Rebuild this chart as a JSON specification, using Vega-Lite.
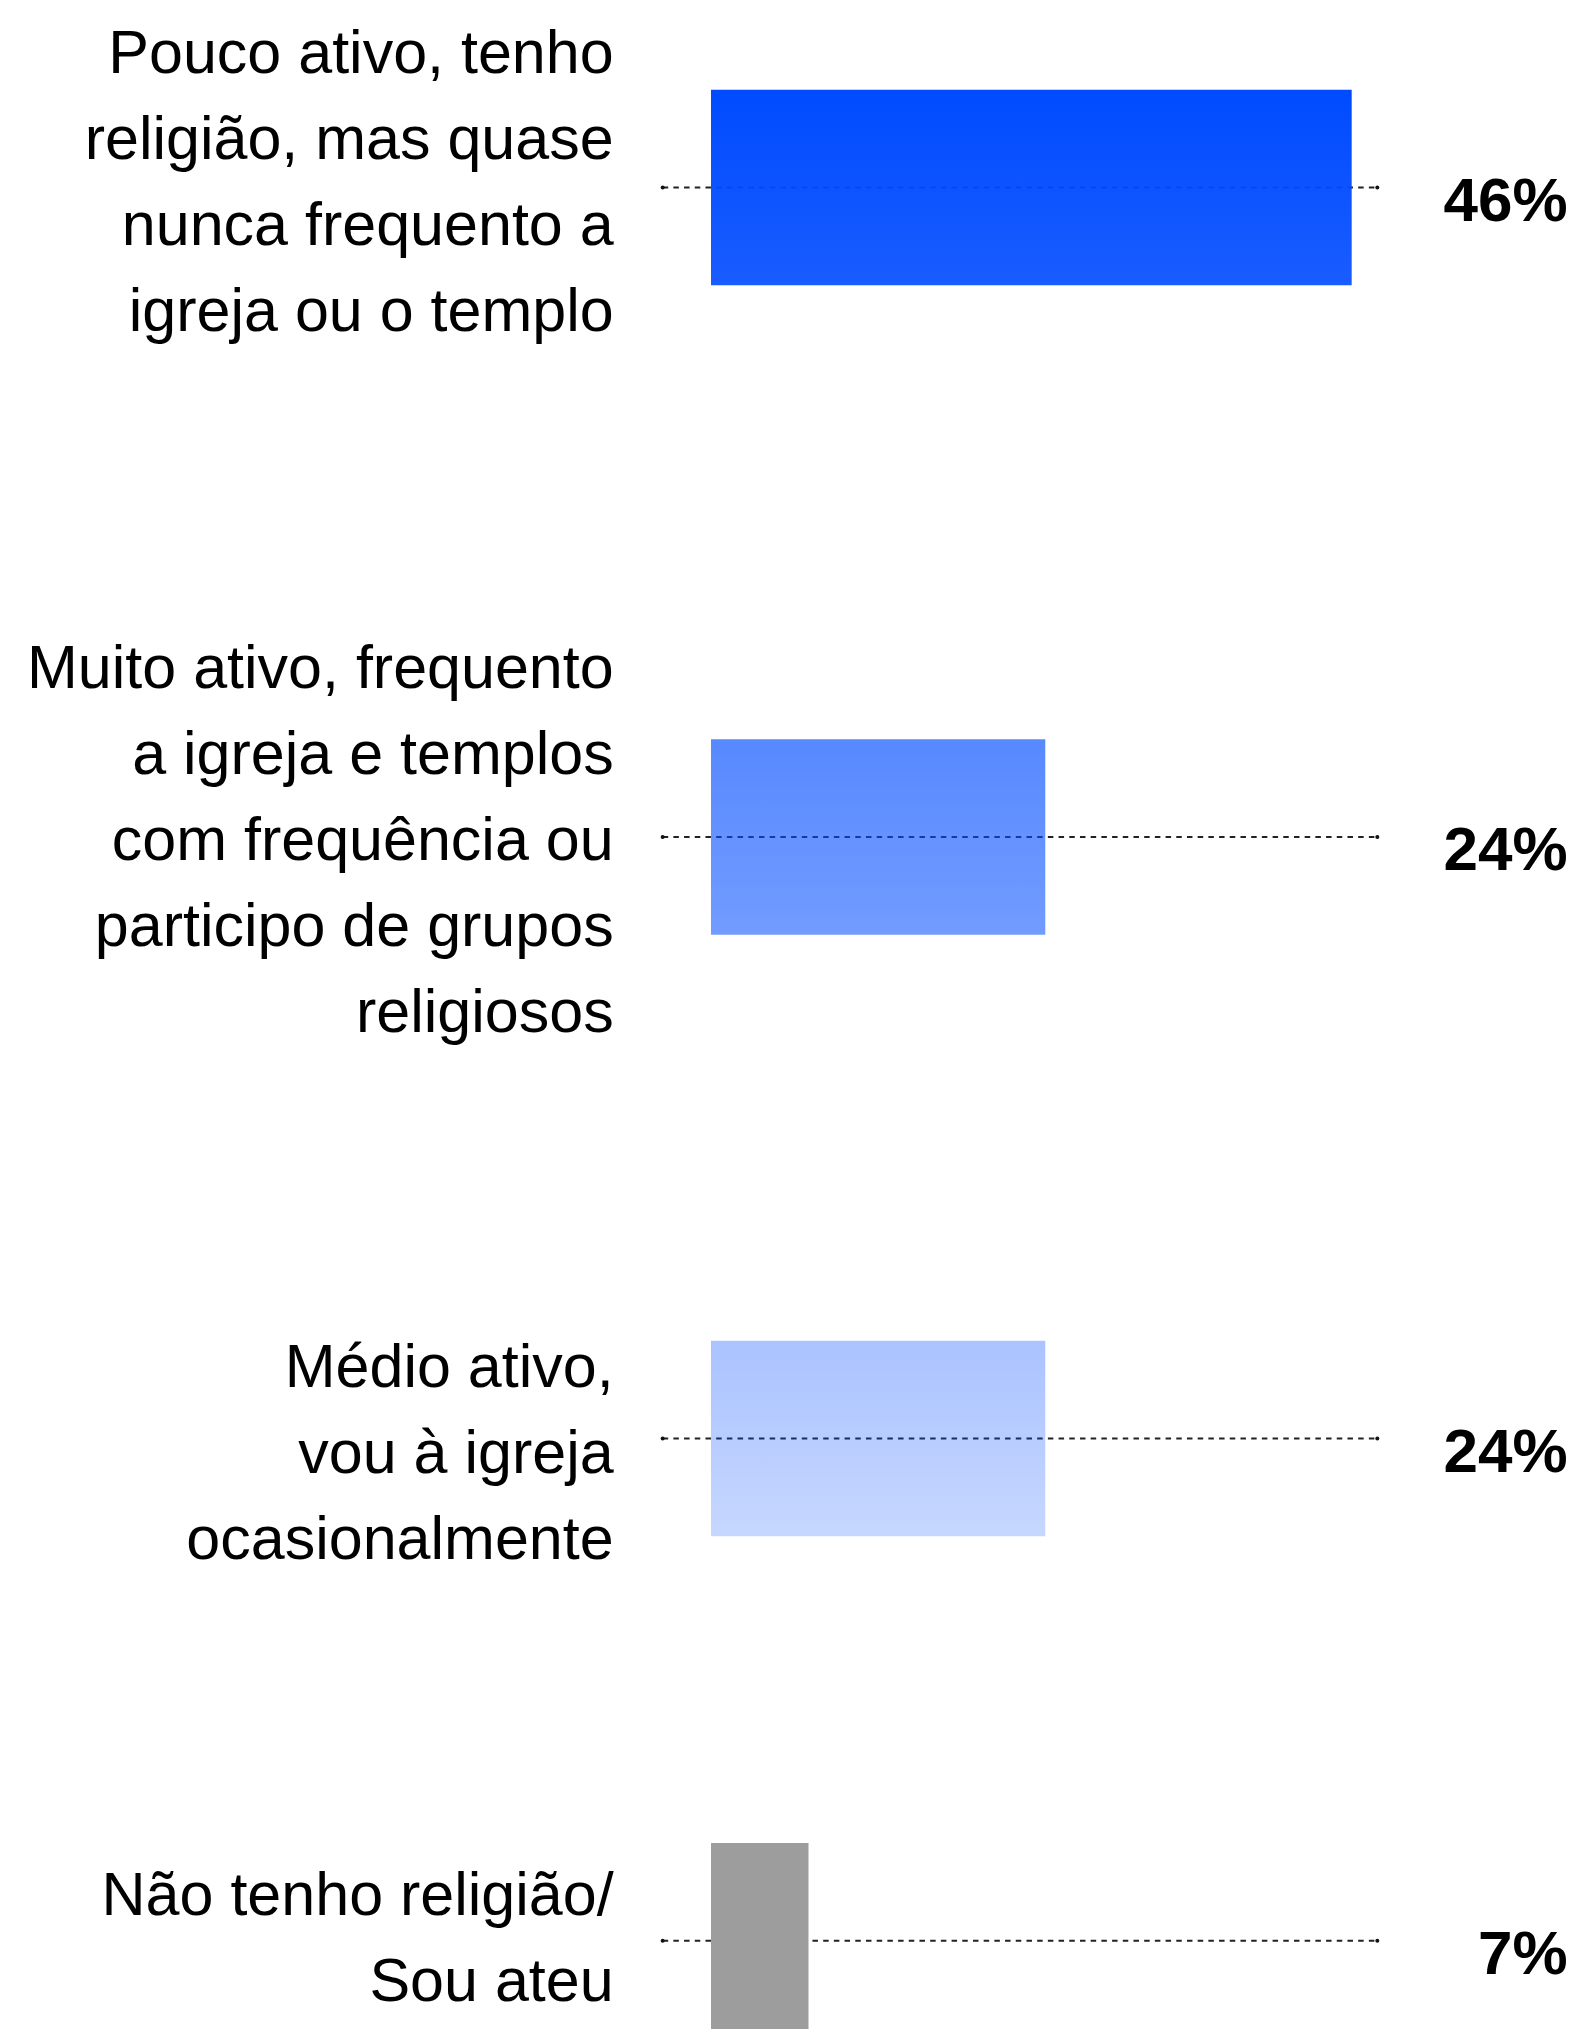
{
  "$schema": "https://vega.github.io/schema/vega-lite/v6.json",
  "padding": 0,
  "spacing": 0,
  "bounds": "flush",
  "config": {"view": {"stroke": null}},
  "data": {"values": [
    {"cat": "pouco", "label": "Pouco ativo, tenho\nreligião, mas quase\nnunca frequento a\nigreja ou o templo", "value": 0.46},
    {"cat": "muito", "label": "Muito ativo, frequento\na igreja e templos\ncom frequência ou\nparticipo de grupos\nreligiosos", "value": 0.24},
    {"cat": "medio", "label": "Médio ativo,\nvou à igreja\nocasionalmente", "value": 0.24},
    {"cat": "nao", "label": "Não tenho religião/\nSou ateu", "value": 0.07}
  ]},
  "vconcat": [
    {
      "width": 1574, "height": 375,
      "transform": [{"filter": "datum.cat == 'pouco'"}],
      "encoding": {"y": {"field": "cat", "type": "nominal", "axis": null}},
      "layer": [
        {"mark": {"type": "rule", "strokeDash": [5.5, 5.2], "strokeWidth": 2, "color": "#222"},
         "encoding": {"x": {"datum": -0.0347, "type": "quantitative", "scale": {"domain": [-0.51048, 0.61961], "nice": false, "zero": false}, "axis": null}, "x2": {"datum": 0.4784}}},
        {"mark": {"type": "point", "shape": "circle", "filled": true, "size": 16, "color": "#111", "opacity": 1},
         "encoding": {"x": {"datum": -0.0347, "type": "quantitative"}}},
        {"mark": {"type": "point", "shape": "circle", "filled": true, "size": 16, "color": "#111", "opacity": 1},
         "encoding": {"x": {"datum": 0.4784, "type": "quantitative"}}},
        {"mark": {"type": "bar", "height": 195.5, "fill": {"gradient": "linear", "x1": 0, "y1": 0, "x2": 0, "y2": 1, "stops": [{"offset": 0, "color": "rgba(0,75,255,1)"}, {"offset": 1, "color": "rgba(0,75,255,0.9)"}]}},
         "encoding": {"x": {"field": "value", "type": "quantitative"}}},
        {"mark": {"type": "text", "align": "right", "baseline": "middle", "lineBreak": "\n", "font": "Liberation Sans", "fontSize": 61, "lineHeight": 86, "dy": -133, "color": "#000"},
         "encoding": {"x": {"datum": -0.0699, "type": "quantitative"}, "text": {"field": "label", "type": "nominal"}}},
        {"mark": {"type": "text", "align": "right", "baseline": "alphabetic", "font": "Liberation Sans", "fontWeight": "bold", "fontSize": 62, "dy": 33, "color": "#000"},
         "encoding": {"x": {"datum": 0.615, "type": "quantitative"}, "text": {"field": "value", "type": "quantitative", "format": ".0%"}}}
      ]
    },
    {
      "width": 1574, "height": 924,
      "transform": [{"filter": "datum.cat == 'muito'"}],
      "encoding": {"y": {"field": "cat", "type": "nominal", "axis": null}},
      "layer": [
        {"mark": {"type": "rule", "strokeDash": [5.5, 5.2], "strokeWidth": 2, "color": "#222"},
         "encoding": {"x": {"datum": -0.0347, "type": "quantitative", "scale": {"domain": [-0.51048, 0.61961], "nice": false, "zero": false}, "axis": null}, "x2": {"datum": 0.4784}}},
        {"mark": {"type": "point", "shape": "circle", "filled": true, "size": 16, "color": "#111", "opacity": 1},
         "encoding": {"x": {"datum": -0.0347, "type": "quantitative"}}},
        {"mark": {"type": "point", "shape": "circle", "filled": true, "size": 16, "color": "#111", "opacity": 1},
         "encoding": {"x": {"datum": 0.4784, "type": "quantitative"}}},
        {"mark": {"type": "bar", "height": 195.5, "fill": {"gradient": "linear", "x1": 0, "y1": 0, "x2": 0, "y2": 1, "stops": [{"offset": 0, "color": "rgba(0,76,255,0.66)"}, {"offset": 1, "color": "rgba(0,76,255,0.555)"}]}},
         "encoding": {"x": {"field": "value", "type": "quantitative"}}},
        {"mark": {"type": "text", "align": "right", "baseline": "middle", "lineBreak": "\n", "font": "Liberation Sans", "fontSize": 61, "lineHeight": 86, "dy": -167.5, "color": "#000"},
         "encoding": {"x": {"datum": -0.0699, "type": "quantitative"}, "text": {"field": "label", "type": "nominal"}}},
        {"mark": {"type": "text", "align": "right", "baseline": "alphabetic", "font": "Liberation Sans", "fontWeight": "bold", "fontSize": 62, "dy": 33, "color": "#000"},
         "encoding": {"x": {"datum": 0.615, "type": "quantitative"}, "text": {"field": "value", "type": "quantitative", "format": ".0%"}}}
      ]
    },
    {
      "width": 1574, "height": 279.2,
      "transform": [{"filter": "datum.cat == 'medio'"}],
      "encoding": {"y": {"field": "cat", "type": "nominal", "axis": null}},
      "layer": [
        {"mark": {"type": "rule", "strokeDash": [5.5, 5.2], "strokeWidth": 2, "color": "#222"},
         "encoding": {"x": {"datum": -0.0347, "type": "quantitative", "scale": {"domain": [-0.51048, 0.61961], "nice": false, "zero": false}, "axis": null}, "x2": {"datum": 0.4784}}},
        {"mark": {"type": "point", "shape": "circle", "filled": true, "size": 16, "color": "#111", "opacity": 1},
         "encoding": {"x": {"datum": -0.0347, "type": "quantitative"}}},
        {"mark": {"type": "point", "shape": "circle", "filled": true, "size": 16, "color": "#111", "opacity": 1},
         "encoding": {"x": {"datum": 0.4784, "type": "quantitative"}}},
        {"mark": {"type": "bar", "height": 195.5, "fill": {"gradient": "linear", "x1": 0, "y1": 0, "x2": 0, "y2": 1, "stops": [{"offset": 0, "color": "rgba(0,76,255,0.335)"}, {"offset": 1, "color": "rgba(0,76,255,0.225)"}]}},
         "encoding": {"x": {"field": "value", "type": "quantitative"}}},
        {"mark": {"type": "text", "align": "right", "baseline": "middle", "lineBreak": "\n", "font": "Liberation Sans", "fontSize": 61, "lineHeight": 86, "dy": -70, "color": "#000"},
         "encoding": {"x": {"datum": -0.0699, "type": "quantitative"}, "text": {"field": "label", "type": "nominal"}}},
        {"mark": {"type": "text", "align": "right", "baseline": "alphabetic", "font": "Liberation Sans", "fontWeight": "bold", "fontSize": 62, "dy": 33, "color": "#000"},
         "encoding": {"x": {"datum": 0.615, "type": "quantitative"}, "text": {"field": "value", "type": "quantitative", "format": ".0%"}}}
      ]
    },
    {
      "width": 1574, "height": 450.8,
      "transform": [{"filter": "datum.cat == 'nao'"}],
      "encoding": {"y": {"field": "cat", "type": "nominal", "axis": null, "scale": {"paddingInner": 0, "paddingOuter": 1, "align": 0.9539}}},
      "layer": [
        {"mark": {"type": "rule", "strokeDash": [5.5, 5.2], "strokeWidth": 2, "color": "#222"},
         "encoding": {"x": {"datum": -0.0347, "type": "quantitative", "scale": {"domain": [-0.51048, 0.61961], "nice": false, "zero": false}, "axis": null}, "x2": {"datum": 0.4784}}},
        {"mark": {"type": "point", "shape": "circle", "filled": true, "size": 16, "color": "#111", "opacity": 1},
         "encoding": {"x": {"datum": -0.0347, "type": "quantitative"}}},
        {"mark": {"type": "point", "shape": "circle", "filled": true, "size": 16, "color": "#111", "opacity": 1},
         "encoding": {"x": {"datum": 0.4784, "type": "quantitative"}}},
        {"mark": {"type": "bar", "height": 195.5, "clip": true, "fill": "#9d9d9d"},
         "encoding": {"x": {"field": "value", "type": "quantitative"}}},
        {"mark": {"type": "text", "align": "right", "baseline": "middle", "lineBreak": "\n", "font": "Liberation Sans", "fontSize": 61, "lineHeight": 86, "dy": -43.5, "color": "#000"},
         "encoding": {"x": {"datum": -0.0699, "type": "quantitative"}, "text": {"field": "label", "type": "nominal"}}},
        {"mark": {"type": "text", "align": "right", "baseline": "alphabetic", "font": "Liberation Sans", "fontWeight": "bold", "fontSize": 62, "dy": 33, "color": "#000"},
         "encoding": {"x": {"datum": 0.615, "type": "quantitative"}, "text": {"field": "value", "type": "quantitative", "format": ".0%"}}}
      ]
    }
  ]
}
